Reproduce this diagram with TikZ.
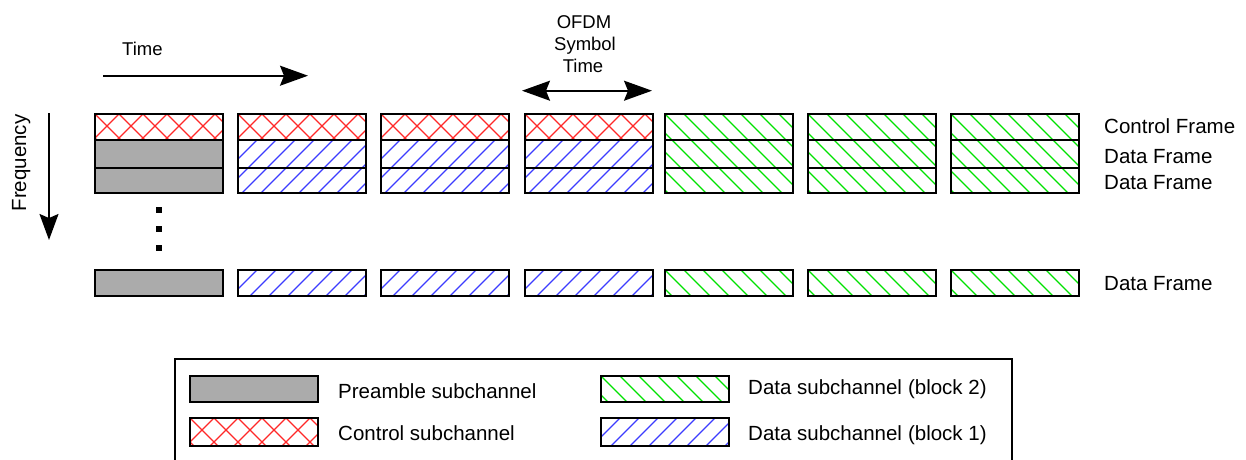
\documentclass[tikz,border=0pt]{standalone}
\usepackage{fontspec}
\setmainfont{Liberation Sans}
\usetikzlibrary{arrows.meta}
\definecolor{preamblegray}{RGB}{171,171,171}
\definecolor{ctrlred}{RGB}{255,40,40}
\definecolor{blkoneblue}{RGB}{60,60,255}
\definecolor{blktwogreen}{RGB}{0,225,0}
% hatch helpers: left x, top y, bottom y, period, colour
\newcommand\linesup[5]{%
  \begin{scope}
    \clip (#1,#2) rectangle ({#1+128},#3);
    \foreach \k in {-6,...,12}
      \draw[hatchline, #5] ({#1+\k*#4},#2) -- ++(-90,90);
  \end{scope}}
\newcommand\linesdown[5]{%
  \begin{scope}
    \clip (#1,#2) rectangle ({#1+128},#3);
    \foreach \k in {-6,...,12}
      \draw[hatchline, #5] ({#1+\k*#4},#2) -- ++(90,90);
  \end{scope}}
\newcommand\crosshatch[3]{%
  \linesup{#1}{#2}{#3}{24}{ctrlred}%
  \linesdown{#1}{#2}{#3}{24}{ctrlred}}
\begin{document}
\begin{tikzpicture}[x=1pt,y=-1pt]
\tikzset{
  cellborder/.style={draw=black, line width=1.3pt},
  hatchline/.style={line width=1.3pt},
  bigtip/.tip={Stealth[length=28pt,width=20pt,inset=4pt]},
  freqtip/.tip={Stealth[length=26pt,width=19pt,inset=4pt]},
  axisline/.style={line width=1.6pt},
  txtbig/.style={inner sep=0pt, font=\fontsize{20.5}{24}\selectfont},
  txtmid/.style={inner sep=0pt, font=\fontsize{18.5}{22}\selectfont},
  dotsq/.style={fill=black, minimum size=6pt, inner sep=0pt, draw=none}
}
\useasboundingbox (0,0) rectangle (1246,459);

% control row of the preamble and block-1 columns
\foreach \x in {95,238,381,525} {\crosshatch{\x}{114}{140}}
% preamble column
\fill[preamblegray] (95,140) rectangle (223,193);
\fill[preamblegray] (95,270) rectangle (223,296);
% data block 1 columns
\foreach \x in {238,381,525} {
  \linesup{\x}{140}{193}{19}{blkoneblue}
  \linesup{\x}{270}{296}{19}{blkoneblue}
}
% data block 2 columns
\foreach \x in {665,808,951} {
  \linesdown{\x}{114}{193}{19}{blktwogreen}
  \linesdown{\x}{270}{296}{19}{blktwogreen}
}
% cell outlines
\foreach \x in {95,238,381,525,665,808,951} {
  \draw[cellborder] (\x,114) rectangle ({\x+128},193);
  \draw[cellborder] (\x,140) -- ({\x+128},140) (\x,168) -- ({\x+128},168);
  \draw[cellborder] (\x,270) rectangle ({\x+128},296);
}

% vertical ellipsis
\node[dotsq] (d1) at (159,210) {};
\node[dotsq] (d2) at (159,229) {};
\node[dotsq] (d3) at (159,248) {};

% time axis
\node[txtmid, anchor=base west] (timelbl) at (122,55) {Time};
\coordinate (ts) at (103,75.7);
\coordinate (te) at (308,75.7);
\draw[axisline, -bigtip] (ts) -- (te);

% frequency axis
\node[txtbig, rotate=90, anchor=base] (freqlbl) at (26,163) {Frequency};
\coordinate (fs) at (49,113);
\coordinate (fe) at (49,240);
\draw[axisline, -freqtip] (fs) -- (fe);

% OFDM symbol time
\node[txtmid, anchor=base] (o1) at (584,28) {OFDM};
\node[txtmid, anchor=base] (o2) at (585,50) {Symbol};
\node[txtmid, anchor=base] (o3) at (583,72) {Time};
\coordinate (os) at (522,90.7);
\coordinate (oe) at (652,90.7);
\draw[axisline, bigtip-bigtip] (os) -- (oe);

% frame labels
\node[txtbig, anchor=base west] (fr1) at (1104,133) {Control Frame};
\node[txtbig, anchor=base west] (fr2) at (1104,163) {Data Frame};
\node[txtbig, anchor=base west] (fr3) at (1104,189) {Data Frame};
\node[txtbig, anchor=base west] (fr4) at (1104,290) {Data Frame};

% legend
\draw[cellborder] (175,359) rectangle (1012,463);
\fill[preamblegray] (190,376) rectangle (318,402);
\crosshatch{190}{418}{446}
\linesdown{601}{376}{402}{19}{blktwogreen}
\linesup{601}{418}{446}{19}{blkoneblue}
\draw[cellborder] (190,376) rectangle (318,402);
\draw[cellborder] (190,418) rectangle (318,446);
\draw[cellborder] (601,376) rectangle (729,402);
\draw[cellborder] (601,418) rectangle (729,446);
\node[txtbig, anchor=base west] (lg1) at (338,398) {Preamble subchannel};
\node[txtbig, anchor=base west] (lg2) at (338,440) {Control subchannel};
\node[txtbig, anchor=base west] (lg3) at (748,394) {Data subchannel\hspace{6pt}(block 2)};
\node[txtbig, anchor=base west] (lg4) at (748,440) {Data subchannel\hspace{6pt}(block 1)};
\end{tikzpicture}
\end{document}
